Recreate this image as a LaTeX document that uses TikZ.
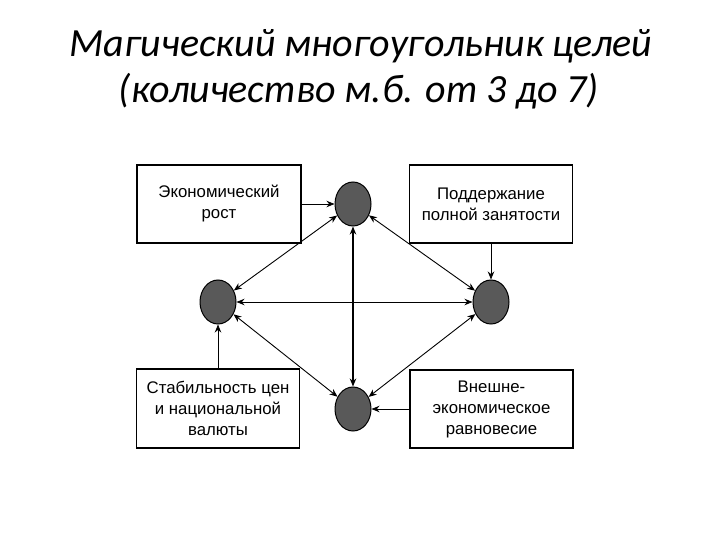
\documentclass[tikz,border=0pt]{standalone}
\usepackage{fontspec}
\setmainfont{Liberation Sans}
\newfontfamily\titlefont{Carlito}
\usetikzlibrary{shapes.geometric,arrows.meta}
\begin{document}
\begin{tikzpicture}[x=1pt,y=-1pt,
  titletext/.style={anchor=base,inner sep=0pt,font=\titlefont\itshape\fontsize{40}{47}\selectfont},
  goalbox/.style={draw=black,line width=1.2pt,fill=white,inner sep=0pt,
    align=center,font=\fontsize{16.8}{21}\selectfont},
  goal/.style={draw=black,line width=1pt,fill=black!65,ellipse,inner sep=0pt,
    minimum width=36pt,minimum height=44pt},
  link/.style={line width=0.9pt,{Stealth[length=8pt,width=6.5pt]}-{Stealth[length=8pt,width=6.5pt]}},
  feed/.style={line width=0.9pt,-{Stealth[length=8pt,width=6.5pt]}}]
\useasboundingbox (0,0) rectangle (720,540);
\node[titletext] (title1) at (361,57) {Магический многоугольник целей};
\node[titletext] (title2) at (359,103) {(количество м.б. от 3 до 7)};
\node[goalbox,minimum width=164pt,minimum height=78pt] (b1) at (219,204) {Экономический\\рост};
\node[goalbox,minimum width=163pt,minimum height=78pt] (b2) at (491,204) {Поддержание\\полной занятости};
\node[goalbox,minimum width=163pt,minimum height=79pt] (b3) at (218,408.5) {Стабильность цен\\и национальной\\валюты};
\node[goalbox,minimum width=163pt,minimum height=78pt] (b4) at (491.5,409) {Внешне-\\экономическое\\равновесие};
\node[goal] (ct) at (353,204) {};
\node[goal] (cr) at (491,302) {};
\node[goal] (cl) at (218,302) {};
\node[goal] (cb) at (353,409) {};
\draw[feed] (b1.east) -- (ct.west);
\draw[feed] (b2.south) -- (cr.north);
\draw[feed] (b3.north) -- (cl.south);
\draw[feed] (b4.west) -- (cb.east);
\draw[link] (ct) -- (cl);
\draw[link] (ct) -- (cr);
\draw[link] (cb) -- (cl);
\draw[link] (cb) -- (cr);
\draw[link] (cl) -- (cr);
\draw[link,line width=1.3pt] (ct) -- (cb);
\end{tikzpicture}
\end{document}
